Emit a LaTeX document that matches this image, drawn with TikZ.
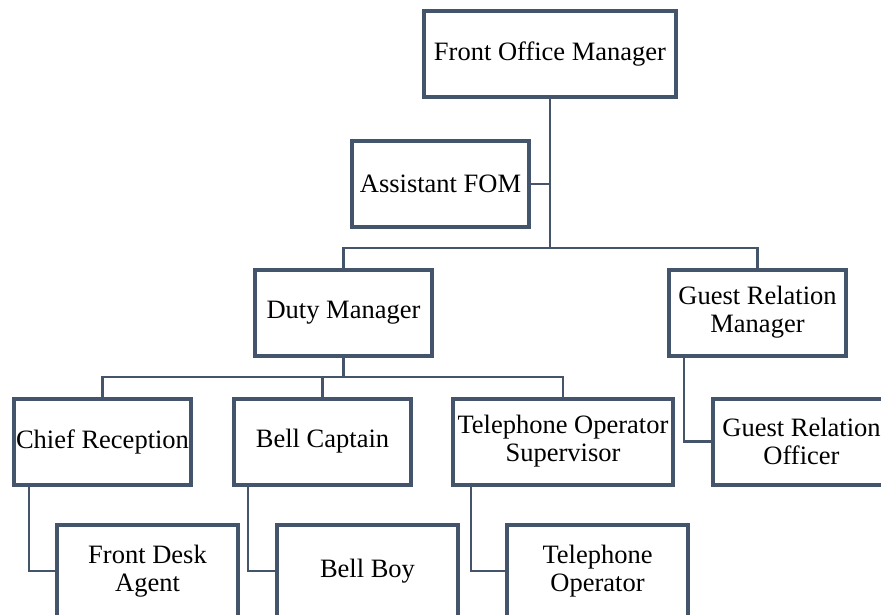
\documentclass[tikz,border=0pt]{standalone}
\usepackage{fontspec}
\setmainfont{Liberation Serif}
\usepackage{xcolor}
\usepackage{tikz}
\usetikzlibrary{positioning}

\definecolor{slate}{HTML}{44546A}

\tikzset{
    post/.style = {draw = slate, fill = white, line width = 4pt, align = center,
        minimum width = 177pt, minimum height = 86pt, inner sep = 0pt,
        font = \fontsize{26.5}{28}\selectfont},
    lowpost/.style = {post, minimum width = 181pt, minimum height = 92pt},
    link/.style = {draw = slate, line width = 2.6pt}
}

\begin{document}
\begin{tikzpicture}[x = 1pt, y = -1pt]
                \useasboundingbox (0, 0) rectangle (881, 614);

                \node [post, minimum width = 252pt] (fom) at (550, 54) {Front Office Manager};
                \node [post] (afom) at (440.5, 184) {Assistant FOM};
                \node [post] (duty) at (343.5, 312.5) {Duty Manager};
                \node [post] (grm) at (757.5, 312.5) {Guest Relation\\Manager};
                \node [post] (chief) at (102.5, 441.5) {Chief Reception};
                \node [post] (bellcap) at (322.5, 441.5) {Bell Captain};
                \node [post, minimum width = 220pt] (telsup) at (563, 441.5) {Telephone Operator\\Supervisor};
                \node [post] (gro) at (801.5, 441.5) {Guest Relation\\Officer};
                \node [lowpost] (fda) at (147.5, 571) {Front Desk\\Agent};
                \node [lowpost] (bellboy) at (367.5, 571) {Bell Boy};
                \node [lowpost] (telop) at (597.5, 571) {Telephone\\Operator};

                \coordinate (bus) at (550, 248);
                \coordinate (dbus) at (343.5, 377);

                \draw [link] (fom.south) -- (bus);
                \draw [link] (afom.east) -- (afom.east -| fom.south);
                \draw [link] (duty.north) |- (bus) -| (grm.north);
                \draw [link] (duty.south) -- (dbus);
                \draw [link] (chief.north) |- (dbus) -| (telsup.north);
                \draw [link] (bellcap.north) -- (bellcap.north |- dbus);
                \draw [link] ([xshift = 17pt]grm.south west) |- (gro.west);
                \draw [link] ([xshift = 17pt]chief.south west) |- (fda.west);
                \draw [link] ([xshift = 16pt]bellcap.south west) |- (bellboy.west);
                \draw [link] ([xshift = 20pt]telsup.south west) |- (telop.west);
            \end{tikzpicture}
\end{document}
